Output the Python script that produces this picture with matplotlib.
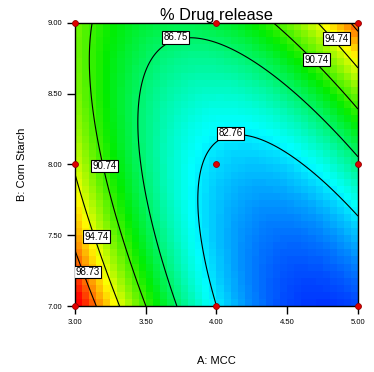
import numpy as np
import matplotlib.pyplot as plt
from matplotlib.colors import LinearSegmentedColormap

plt.rcParams['font.family'] = ['Liberation Sans', 'DejaVu Sans']

# 3^2 design points (actual units) and the response at each run
mcc = [3.0, 4.0, 5.0, 3.0, 4.0, 5.0, 3.0, 4.0, 5.0]
starch = [7.0, 7.0, 7.0, 8.0, 8.0, 8.0, 9.0, 9.0, 9.0]
release = [102.76, 82.76, 78.76, 94.37, 82.27, 86.17, 92.10, 87.90, 99.70]

levels = [82.76, 86.75, 90.74, 94.74, 98.73]
x_ticks = [3.00, 3.50, 4.00, 4.50, 5.00]
y_ticks = [7.00, 7.50, 8.00, 8.50, 9.00]
# where the contour labels sit (MCC, Corn Starch)
label_pos = [(4.10, 8.22), (3.71, 8.90), (4.71, 8.74), (3.21, 7.99),
             (4.85, 8.89), (3.15, 7.49), (3.09, 7.24)]


def terms(a, b):
    a = np.asarray(a) - 4.0
    b = np.asarray(b) - 8.0
    return np.stack([np.ones_like(a), a, b, a * b, a * a, b * b], axis=-1)


# quadratic response surface fitted to the runs
coef, *_ = np.linalg.lstsq(terms(mcc, starch), np.array(release), rcond=None)

n = 40
xe = np.linspace(3, 5, n + 1)
ye = np.linspace(7, 9, n + 1)
xc = (xe[:-1] + xe[1:]) / 2
yc = (ye[:-1] + ye[1:]) / 2
Zc = terms(*np.meshgrid(xc, yc)) @ coef

xf = np.linspace(3, 5, 300)
yf = np.linspace(7, 9, 300)
XF, YF = np.meshgrid(xf, yf)
ZF = terms(XF, YF) @ coef

cmap = LinearSegmentedColormap.from_list(
    'de', [(0, 0, 1), (0, 1, 1), (0, 0.93, 0), (1, 1, 0), (1, 0, 0)])

fig = plt.figure(figsize=(3.74, 3.72), dpi=100)
ax = fig.add_axes([0.2005, 0.1774, 0.7567, 0.7608])
ax.pcolormesh(xe, ye, Zc, cmap=cmap, vmin=77.0, vmax=101.5, shading='flat')
cs = ax.contour(XF, YF, ZF, levels=levels, colors='black', linewidths=0.8)
labels = ax.clabel(cs, fmt='%.2f', inline=False, fontsize=7, manual=label_pos)
for t, pos in zip(labels, label_pos):
    t.set_rotation(0)
    t.set_position(pos)
    t.set_bbox(dict(facecolor='white', edgecolor='black', linewidth=0.8, pad=1.0))

ax.scatter(mcc, starch, s=18, color='#e00000', edgecolors='#900000',
           linewidths=0.6, zorder=5, clip_on=False)

ax.set_xlim(3, 5)
ax.set_ylim(7, 9)
ax.set_xticks(x_ticks)
ax.set_yticks(y_ticks)
ax.set_xticklabels(['%.2f' % v for v in x_ticks], fontsize=5.5)
ax.set_yticklabels(['%.2f' % v for v in y_ticks], fontsize=5.5)
ax.tick_params(direction='out', length=6, width=1, pad=3)
for s in ax.spines.values():
    s.set_linewidth(1)

ax.set_title('% Drug release', fontsize=11.8, pad=2)
ax.set_xlabel('A: MCC', fontsize=8, labelpad=22)
ax.set_ylabel('B: Corn Starch', fontsize=8, labelpad=15)

fig.savefig('out.png', dpi=100)
